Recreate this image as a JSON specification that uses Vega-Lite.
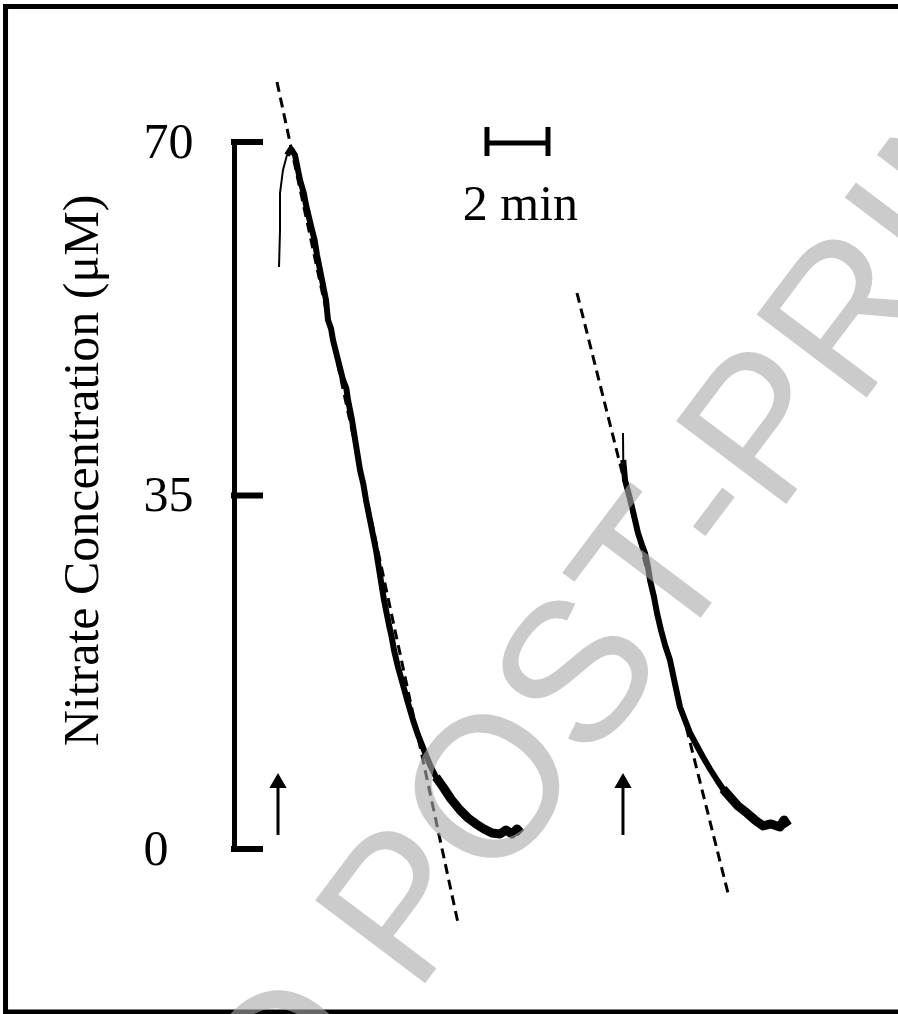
{
  "$schema": "https://vega.github.io/schema/vega-lite/v6.json",
  "autosize": "none",
  "width": 898,
  "height": 707,
  "padding": {"left": 0, "top": 142, "right": 0, "bottom": 165},
  "background": "white",
  "config": {
    "view": {"stroke": null},
    "axisY": {
      "grid": false,
      "domain": true,
      "domainColor": "black",
      "domainWidth": 5,
      "domainCap": "square",
      "ticks": false,
      "tickSize": 0,
      "labelFont": "Liberation Serif",
      "labelFontSize": 50,
      "labelColor": "black",
      "labelAlign": "left",
      "labelBaseline": "middle",
      "labelPadding": 91,
      "labelFlush": false,
      "labelOverlap": false,
      "titleFont": "Liberation Serif",
      "titleFontSize": 50,
      "titleFontWeight": "normal",
      "titleColor": "black",
      "titleAngle": 270,
      "titleAlign": "center",
      "titleBaseline": "alphabetic",
      "titleX": -137,
      "titleY": 328
    }
  },
  "datasets": {
    "frame": [{"t": -8.934, "t2": 20.492, "c": 83.42, "c2": -16.14}],
    "yticks": [{"c": 0}, {"c": 35}, {"c": 70}],
    "rise": [
      {"run": "first", "t": 0.033, "c": 57.62},
      {"run": "first", "t": 0.066, "c": 61.29},
      {"run": "first", "t": 0.066, "c": 64.95},
      {"run": "first", "t": 0.164, "c": 67.23},
      {"run": "first", "t": 0.295, "c": 68.71},
      {"run": "second", "t": 11.311, "c": 41.19},
      {"run": "second", "t": 11.32, "c": 38.51}
    ],
    "traces": [
      {"run": "first", "t": 0.295, "c": 68.71},
      {"run": "first", "t": 0.426, "c": 69.31},
      {"run": "first", "t": 0.557, "c": 68.71},
      {"run": "first", "t": 0.721, "c": 66.24},
      {"run": "first", "t": 0.85, "c": 64.9},
      {"run": "first", "t": 0.918, "c": 63.76},
      {"run": "first", "t": 1.115, "c": 61.29},
      {"run": "first", "t": 1.2, "c": 60.3},
      {"run": "first", "t": 1.279, "c": 58.81},
      {"run": "first", "t": 1.443, "c": 56.34},
      {"run": "first", "t": 1.574, "c": 54.36},
      {"run": "first", "t": 1.639, "c": 52.38},
      {"run": "first", "t": 1.74, "c": 51.5},
      {"run": "first", "t": 1.803, "c": 50.4},
      {"run": "first", "t": 1.967, "c": 48.42},
      {"run": "first", "t": 2.131, "c": 46.44},
      {"run": "first", "t": 2.24, "c": 45.6},
      {"run": "first", "t": 2.295, "c": 44.46},
      {"run": "first", "t": 2.426, "c": 42.48},
      {"run": "first", "t": 2.557, "c": 40.0},
      {"run": "first", "t": 2.689, "c": 37.52},
      {"run": "first", "t": 2.8, "c": 36.1},
      {"run": "first", "t": 2.885, "c": 34.55},
      {"run": "first", "t": 3.049, "c": 32.08},
      {"run": "first", "t": 3.213, "c": 29.6},
      {"run": "first", "t": 3.344, "c": 27.13},
      {"run": "first", "t": 3.475, "c": 24.65},
      {"run": "first", "t": 3.639, "c": 22.18},
      {"run": "first", "t": 3.72, "c": 21.1},
      {"run": "first", "t": 3.803, "c": 19.7},
      {"run": "first", "t": 3.934, "c": 18.02},
      {"run": "first", "t": 4.098, "c": 16.24},
      {"run": "first", "t": 4.262, "c": 14.46},
      {"run": "first", "t": 4.426, "c": 12.77},
      {"run": "first", "t": 4.59, "c": 11.29},
      {"run": "first", "t": 4.787, "c": 9.8},
      {"run": "first", "t": 4.984, "c": 8.32},
      {"run": "first", "t": 5.18, "c": 7.13},
      {"run": "first", "t": 5.41, "c": 6.14},
      {"run": "first", "t": 5.672, "c": 4.95},
      {"run": "first", "t": 5.967, "c": 3.86},
      {"run": "first", "t": 6.23, "c": 3.07},
      {"run": "first", "t": 6.492, "c": 2.48},
      {"run": "first", "t": 6.754, "c": 1.98},
      {"run": "first", "t": 7.016, "c": 1.58},
      {"run": "first", "t": 7.279, "c": 1.49},
      {"run": "first", "t": 7.475, "c": 1.88},
      {"run": "first", "t": 7.672, "c": 1.49},
      {"run": "first", "t": 7.836, "c": 1.98},
      {"run": "first", "t": 7.967, "c": 1.58},
      {"run": "second", "t": 11.32, "c": 38.51},
      {"run": "second", "t": 11.377, "c": 36.53},
      {"run": "second", "t": 11.508, "c": 35.05},
      {"run": "second", "t": 11.607, "c": 33.86},
      {"run": "second", "t": 11.705, "c": 32.57},
      {"run": "second", "t": 11.803, "c": 31.29},
      {"run": "second", "t": 11.934, "c": 30.1},
      {"run": "second", "t": 12.033, "c": 29.31},
      {"run": "second", "t": 12.131, "c": 27.92},
      {"run": "second", "t": 12.197, "c": 26.63},
      {"run": "second", "t": 12.328, "c": 24.95},
      {"run": "second", "t": 12.426, "c": 23.37},
      {"run": "second", "t": 12.557, "c": 21.68},
      {"run": "second", "t": 12.689, "c": 20.2},
      {"run": "second", "t": 12.852, "c": 18.71},
      {"run": "second", "t": 13.016, "c": 16.34},
      {"run": "second", "t": 13.18, "c": 14.06},
      {"run": "second", "t": 13.344, "c": 12.77},
      {"run": "second", "t": 13.508, "c": 11.49},
      {"run": "second", "t": 13.738, "c": 10.2},
      {"run": "second", "t": 13.934, "c": 9.11},
      {"run": "second", "t": 14.164, "c": 7.92},
      {"run": "second", "t": 14.393, "c": 6.83},
      {"run": "second", "t": 14.59, "c": 5.94},
      {"run": "second", "t": 14.82, "c": 5.15},
      {"run": "second", "t": 15.082, "c": 4.26},
      {"run": "second", "t": 15.377, "c": 3.56},
      {"run": "second", "t": 15.639, "c": 2.87},
      {"run": "second", "t": 15.902, "c": 2.28},
      {"run": "second", "t": 16.164, "c": 2.48},
      {"run": "second", "t": 16.459, "c": 2.18},
      {"run": "second", "t": 16.59, "c": 2.87},
      {"run": "second", "t": 16.721, "c": 2.28}
    ],
    "tails": [
      {"run": "first", "t": 5.18, "c": 7.13},
      {"run": "first", "t": 5.41, "c": 6.14},
      {"run": "first", "t": 5.672, "c": 4.95},
      {"run": "first", "t": 5.967, "c": 3.86},
      {"run": "first", "t": 6.23, "c": 3.07},
      {"run": "first", "t": 6.492, "c": 2.48},
      {"run": "first", "t": 6.754, "c": 1.98},
      {"run": "first", "t": 7.016, "c": 1.58},
      {"run": "first", "t": 7.279, "c": 1.49},
      {"run": "first", "t": 7.475, "c": 1.88},
      {"run": "first", "t": 7.672, "c": 1.49},
      {"run": "first", "t": 7.836, "c": 1.98},
      {"run": "first", "t": 7.967, "c": 1.58},
      {"run": "second", "t": 14.59, "c": 5.94},
      {"run": "second", "t": 14.82, "c": 5.15},
      {"run": "second", "t": 15.082, "c": 4.26},
      {"run": "second", "t": 15.377, "c": 3.56},
      {"run": "second", "t": 15.639, "c": 2.87},
      {"run": "second", "t": 15.902, "c": 2.28},
      {"run": "second", "t": 16.164, "c": 2.48},
      {"run": "second", "t": 16.459, "c": 2.18},
      {"run": "second", "t": 16.59, "c": 2.87},
      {"run": "second", "t": 16.721, "c": 2.28}
    ],
    "fits": [
      {"run": "first", "t": -0.033, "c": 75.94},
      {"run": "first", "t": 5.902, "c": -7.33},
      {"run": "second", "t": 9.803, "c": 55.05},
      {"run": "second", "t": 14.754, "c": -4.36}
    ],
    "arrows": [{"t": 0}, {"t": 11.311}],
    "scalebar": [{"t": 6.852, "t2": 8.852, "c": 69.9}],
    "scalecaps": [{"t": 6.852}, {"t": 8.852}],
    "labels": [{"t": 7.95, "c": 62.28, "label": "2 min"}],
    "watermark": [{"t": 3.475, "c": -8.81, "label": "ACCEPTED POST-PRINT"}]
  },
  "layer": [
    {
      "data": {"name": "frame"},
      "mark": {"type": "rect", "filled": false, "stroke": "black", "strokeWidth": 5},
      "encoding": {
        "x": {"field": "t", "type": "quantitative", "scale": {"domain": [-9.115, 20.328], "nice": false, "zero": false}, "axis": null},
        "x2": {"field": "t2"},
        "y": {"field": "c", "type": "quantitative", "scale": {"domain": [0, 70], "nice": false, "zero": false}, "axis": {"title": "Nitrate Concentration (μM)", "values": [0, 35, 70], "offset": -234}},
        "y2": {"field": "c2"}
      }
    },
    {
      "data": {"name": "yticks"},
      "mark": {"type": "rule", "stroke": "black", "strokeWidth": 6},
      "encoding": {
        "x": {"datum": -1.541, "type": "quantitative", "scale": {"domain": [-9.115, 20.328], "nice": false, "zero": false}, "axis": null},
        "x2": {"datum": -0.492},
        "y": {"field": "c", "type": "quantitative", "scale": {"domain": [0, 70], "nice": false, "zero": false}, "axis": {"title": "Nitrate Concentration (μM)", "values": [0, 35, 70], "offset": -234}}
      }
    },
    {
      "data": {"name": "rise"},
      "mark": {"type": "line", "color": "black", "strokeWidth": 2},
      "encoding": {
        "x": {"field": "t", "type": "quantitative", "scale": {"domain": [-9.115, 20.328], "nice": false, "zero": false}, "axis": null},
        "y": {"field": "c", "type": "quantitative", "scale": {"domain": [0, 70], "nice": false, "zero": false}, "axis": {"title": "Nitrate Concentration (μM)", "values": [0, 35, 70], "offset": -234}},
        "detail": {"field": "run", "type": "nominal"},
        "order": {"field": "c", "type": "quantitative"}
      }
    },
    {
      "data": {"name": "traces"},
      "mark": {"type": "line", "color": "black", "strokeWidth": 6, "strokeJoin": "round"},
      "encoding": {
        "x": {"field": "t", "type": "quantitative", "scale": {"domain": [-9.115, 20.328], "nice": false, "zero": false}, "axis": null},
        "y": {"field": "c", "type": "quantitative", "scale": {"domain": [0, 70], "nice": false, "zero": false}, "axis": {"title": "Nitrate Concentration (μM)", "values": [0, 35, 70], "offset": -234}},
        "detail": {"field": "run", "type": "nominal"},
        "order": {"field": "t", "type": "quantitative"}
      }
    },
    {
      "data": {"name": "tails"},
      "mark": {"type": "line", "color": "black", "strokeWidth": 9, "strokeJoin": "round"},
      "encoding": {
        "x": {"field": "t", "type": "quantitative", "scale": {"domain": [-9.115, 20.328], "nice": false, "zero": false}, "axis": null},
        "y": {"field": "c", "type": "quantitative", "scale": {"domain": [0, 70], "nice": false, "zero": false}, "axis": {"title": "Nitrate Concentration (μM)", "values": [0, 35, 70], "offset": -234}},
        "detail": {"field": "run", "type": "nominal"},
        "order": {"field": "t", "type": "quantitative"}
      }
    },
    {
      "data": {"name": "fits"},
      "mark": {"type": "line", "color": "black", "strokeWidth": 3, "strokeDash": [10, 6]},
      "encoding": {
        "x": {"field": "t", "type": "quantitative", "scale": {"domain": [-9.115, 20.328], "nice": false, "zero": false}, "axis": null},
        "y": {"field": "c", "type": "quantitative", "scale": {"domain": [0, 70], "nice": false, "zero": false}, "axis": {"title": "Nitrate Concentration (μM)", "values": [0, 35, 70], "offset": -234}},
        "detail": {"field": "run", "type": "nominal"}
      }
    },
    {
      "data": {"name": "arrows"},
      "mark": {"type": "rule", "color": "black", "strokeWidth": 3},
      "encoding": {
        "x": {"field": "t", "type": "quantitative", "scale": {"domain": [-9.115, 20.328], "nice": false, "zero": false}, "axis": null},
        "y": {"datum": 6.3, "type": "quantitative", "scale": {"domain": [0, 70], "nice": false, "zero": false}, "axis": {"title": "Nitrate Concentration (μM)", "values": [0, 35, 70], "offset": -234}},
        "y2": {"datum": 1.39}
      }
    },
    {
      "data": {"name": "arrows"},
      "mark": {"type": "point", "shape": "triangle-up", "filled": true, "color": "black", "opacity": 1, "size": 300},
      "encoding": {
        "x": {"field": "t", "type": "quantitative", "scale": {"domain": [-9.115, 20.328], "nice": false, "zero": false}, "axis": null},
        "y": {"datum": 6.78, "type": "quantitative", "scale": {"domain": [0, 70], "nice": false, "zero": false}, "axis": {"title": "Nitrate Concentration (μM)", "values": [0, 35, 70], "offset": -234}}
      }
    },
    {
      "data": {"name": "scalebar"},
      "mark": {"type": "rule", "color": "black", "strokeWidth": 5},
      "encoding": {
        "x": {"field": "t", "type": "quantitative", "scale": {"domain": [-9.115, 20.328], "nice": false, "zero": false}, "axis": null},
        "x2": {"field": "t2"},
        "y": {"field": "c", "type": "quantitative", "scale": {"domain": [0, 70], "nice": false, "zero": false}, "axis": {"title": "Nitrate Concentration (μM)", "values": [0, 35, 70], "offset": -234}}
      }
    },
    {
      "data": {"name": "scalecaps"},
      "mark": {"type": "rule", "color": "black", "strokeWidth": 5},
      "encoding": {
        "x": {"field": "t", "type": "quantitative", "scale": {"domain": [-9.115, 20.328], "nice": false, "zero": false}, "axis": null},
        "y": {"datum": 71.49, "type": "quantitative", "scale": {"domain": [0, 70], "nice": false, "zero": false}, "axis": {"title": "Nitrate Concentration (μM)", "values": [0, 35, 70], "offset": -234}},
        "y2": {"datum": 68.61}
      }
    },
    {
      "data": {"name": "labels"},
      "mark": {"type": "text", "font": "Liberation Serif", "fontSize": 50, "color": "black", "align": "center", "baseline": "alphabetic"},
      "encoding": {
        "x": {"field": "t", "type": "quantitative", "scale": {"domain": [-9.115, 20.328], "nice": false, "zero": false}, "axis": null},
        "y": {"field": "c", "type": "quantitative", "scale": {"domain": [0, 70], "nice": false, "zero": false}, "axis": {"title": "Nitrate Concentration (μM)", "values": [0, 35, 70], "offset": -234}},
        "text": {"field": "label"}
      }
    },
    {
      "data": {"name": "watermark"},
      "mark": {"type": "text", "font": "Liberation Sans", "fontSize": 200, "color": "#aaaaaa", "opacity": 0.6, "align": "center", "baseline": "middle", "angle": -53},
      "encoding": {
        "x": {"field": "t", "type": "quantitative", "scale": {"domain": [-9.115, 20.328], "nice": false, "zero": false}, "axis": null},
        "y": {"field": "c", "type": "quantitative", "scale": {"domain": [0, 70], "nice": false, "zero": false}, "axis": {"title": "Nitrate Concentration (μM)", "values": [0, 35, 70], "offset": -234}},
        "text": {"field": "label"}
      }
    }
  ]
}
